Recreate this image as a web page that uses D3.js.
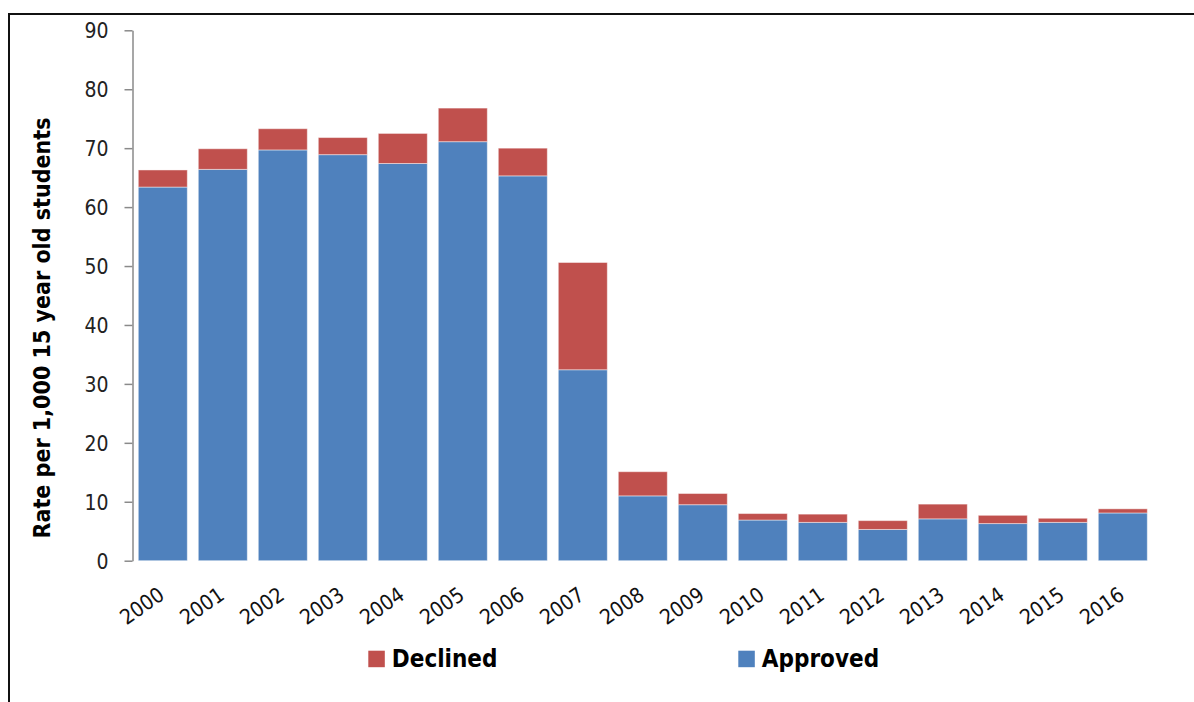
<!DOCTYPE html>
<html>
<head>
<meta charset="utf-8">
<script src="https://cdn.jsdelivr.net/npm/d3@7"></script>
<style>
  html, body { margin: 0; padding: 0; background: #fff; }
  svg { display: block; }
  text { font-family: "DejaVu Sans Condensed", "DejaVu Sans", sans-serif; font-stretch: condensed; }
</style>
</head>
<body>
<svg id="chart" width="1194" height="702"></svg>
<script>
const years = ["2000","2001","2002","2003","2004","2005","2006","2007","2008","2009","2010","2011","2012","2013","2014","2015","2016"];
const approved = [63.4, 66.4, 69.7, 68.9, 67.4, 71.1, 65.3, 32.4, 11.0, 9.5, 6.9, 6.5, 5.3, 7.1, 6.3, 6.5, 8.1];
const declined = [2.9, 3.5, 3.6, 2.9, 5.1, 5.7, 4.7, 18.2, 4.1, 1.9, 1.1, 1.4, 1.5, 2.5, 1.4, 0.7, 0.7];
const yTicks = [0, 10, 20, 30, 40, 50, 60, 70, 80, 90];
const seriesNames = ["Approved", "Declined"];
const legendNames = ["Declined", "Approved"];
const colors = { Approved: "#4F81BD", Declined: "#C0504D" };
const yTitle = "Rate per 1,000 15 year old students";

const svg = d3.select("#chart");

// frame
svg.append("line").attr("x1", 9).attr("x2", 1194).attr("y1", 14).attr("y2", 14)
  .attr("stroke", "#111").attr("stroke-width", 2);
svg.append("line").attr("x1", 9).attr("x2", 9).attr("y1", 13).attr("y2", 702)
  .attr("stroke", "#111").attr("stroke-width", 2);

const axisX = 132.5;
const y = d3.scaleLinear().domain([0, 90]).range([560.7, 30.3]);
const x = d3.scaleBand().domain(years).range([138.3, 1147.3]).paddingInner(0.1833).paddingOuter(0);

const rows = years.map((yr, i) => ({ year: yr, Approved: approved[i], Declined: declined[i] }));
const stack = d3.stack().keys(seriesNames)(rows);

const g = svg.append("g");
g.selectAll("g.series").data(stack).join("g")
  .attr("class", "series")
  .attr("fill", d => colors[d.key])
  .selectAll("rect").data(d => d).join("rect")
  .attr("x", d => x(d.data.year))
  .attr("width", x.bandwidth())
  .attr("y", d => y(d[1]))
  .attr("height", d => y(d[0]) - y(d[1]))
  .attr("stroke", "#ffffff")
  .attr("stroke-opacity", 0.45)
  .attr("stroke-width", 1);

// y axis
const yAxis = d3.axisLeft(y).tickValues(yTicks).tickSize(8).tickPadding(16).tickSizeOuter(0);
const ya = svg.append("g").attr("transform", `translate(${axisX},0)`).call(yAxis);
ya.select(".domain").attr("stroke", "#8a8a8a").attr("stroke-width", 1.5);
ya.selectAll(".tick line").attr("stroke", "#8a8a8a").attr("stroke-width", 1.5);
ya.selectAll(".tick text").attr("fill", "#222").style("font-size", "21px")
  .attr("dy", "0.36em");

// x labels
svg.append("g").selectAll("text").data(years).join("text")
  .attr("transform", d => `translate(${x(d) + x.bandwidth() / 2 + 3},598) rotate(-35)`)
  .attr("text-anchor", "end")
  .attr("fill", "#111")
  .style("font-size", "21px")
  .text(d => d);

// y title
svg.append("text")
  .attr("transform", "translate(50,328) rotate(-90)")
  .attr("text-anchor", "middle")
  .attr("fill", "#000")
  .style("font-size", "23px")
  .style("font-weight", "bold")
  .text(yTitle);

// legend
const legendX = { Declined: 368.3, Approved: 738.3 };
const lg = svg.append("g").selectAll("g").data(legendNames).join("g")
  .attr("transform", d => `translate(${legendX[d]},650.7)`);
lg.append("rect").attr("width", 16.5).attr("height", 16.5).attr("fill", d => colors[d]);
lg.append("text").attr("x", 23.5).attr("y", 16.2)
  .attr("fill", "#000")
  .style("font-size", "24px").style("font-weight", "bold")
  .text(d => d);
</script>
</body>
</html>
